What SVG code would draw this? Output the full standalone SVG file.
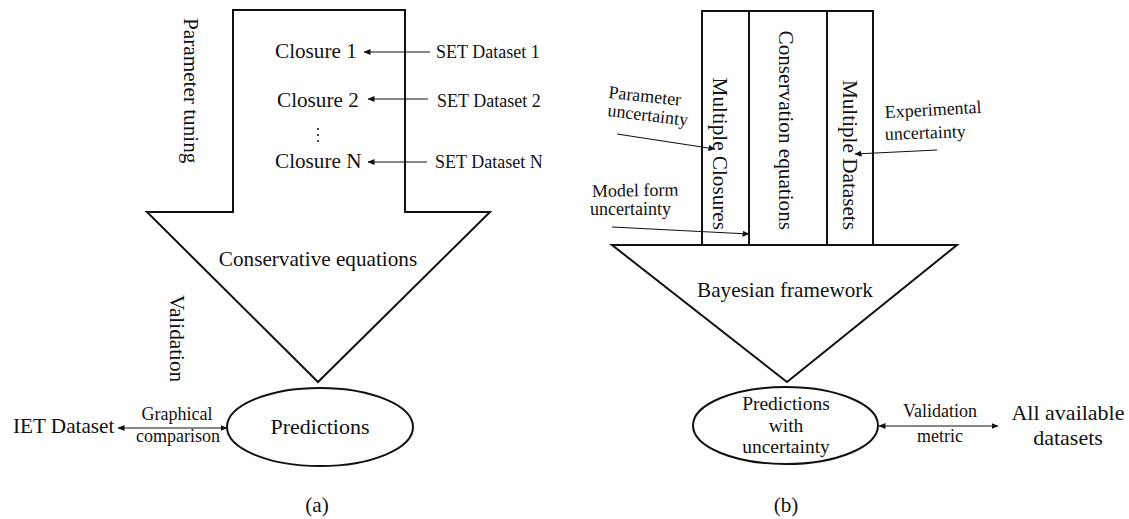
<svg xmlns="http://www.w3.org/2000/svg" width="1129" height="519" viewBox="0 0 1129 519">
<style>
text{font-family:"Liberation Serif","Times New Roman",serif;fill:#111}
.t20{font-size:21.2px}
.t21{font-size:22px}
.t17{font-size:18px}
.t19{font-size:19.5px}
.shape{fill:#fff;stroke:#111;stroke-width:2;stroke-linejoin:miter}
.conn{fill:none;stroke:#111;stroke-width:1.2}
.mid{text-anchor:middle}
.end{text-anchor:end}
</style>
<defs>
<marker id="ah" markerWidth="7" markerHeight="6" refX="6.5" refY="3" orient="auto-start-reverse" markerUnits="userSpaceOnUse">
<path d="M0,0 L7,3 L0,6 Z" fill="#111"/>
</marker>
</defs>
<rect width="1129" height="519" fill="#fff"/>

<!-- (a) -->
<g id="a-arrow">
<path class="shape" d="M233,10 H405 V212 H490 L318,382 L147,212 H233 Z"/>
<text class="t20" x="275" y="58">Closure 1</text>
<text class="t20" x="277" y="107">Closure 2</text>
<circle cx="318" cy="129" r="1" fill="#111"/>
<circle cx="318" cy="135" r="1" fill="#111"/>
<circle cx="318" cy="141" r="1" fill="#111"/>
<text class="t20" x="275" y="168">Closure N</text>
<text class="t20 mid" x="318" y="266">Conservative equations</text>
</g>
<g id="a-set1"><text class="t17" x="436" y="58">SET Dataset 1</text></g>
<g id="a-set2"><text class="t17" x="437" y="107">SET Dataset 2</text></g>
<g id="a-setN"><text class="t17" x="435" y="168">SET Dataset N</text></g>
<g id="a-param-label"><text class="t20" transform="translate(184,18) rotate(90)">Parameter tuning</text></g>
<g id="a-valid-label"><text class="t20" transform="translate(170,295) rotate(90)">Validation</text></g>
<g id="a-pred">
<ellipse class="shape" cx="320" cy="427" rx="93" ry="39"/>
<text class="t21 mid" x="320" y="434">Predictions</text>
</g>
<g id="a-iet"><text class="t20" x="13" y="433">IET Dataset</text></g>
<g id="a-caption"><text class="t20 mid" x="317" y="512">(a)</text></g>

<!-- (b) -->
<g id="b-arrow">
<path class="shape" d="M612,245 H957 L787,382 Z"/>
<rect class="shape" x="702" y="11" width="171" height="234"/>
<line class="shape" x1="749" y1="11" x2="749" y2="245"/>
<line class="shape" x1="827" y1="11" x2="827" y2="245"/>
<text class="t20" transform="translate(713,230) rotate(90)" text-anchor="end">Multiple Closures</text>
<text class="t20" transform="translate(779,230) rotate(90)" text-anchor="end">Conservation equations</text>
<text class="t20" transform="translate(843,230) rotate(90)" text-anchor="end">Multiple Datasets</text>
<text class="t20 mid" x="785" y="297">Bayesian framework</text>
</g>
<g id="b-param-unc">
<text class="t17" transform="translate(608,98) rotate(6)">Parameter</text>
<text class="t17" transform="translate(607,116) rotate(7)">uncertainty</text>
</g>
<g id="b-model-unc">
<text class="t17" transform="translate(592,197) rotate(-1)">Model form</text>
<text class="t17" x="590" y="215">uncertainty</text>
</g>
<g id="b-exp-unc">
<text class="t17" transform="translate(885,118) rotate(-3)">Experimental</text>
<text class="t17" transform="translate(885,140) rotate(-2)">uncertainty</text>
</g>
<g id="b-pred">
<ellipse class="shape" cx="785.5" cy="425.5" rx="92.5" ry="38.5"/>
<text class="t19 mid" x="786" y="410">Predictions</text>
<text class="t19 mid" x="786" y="431.5">with</text>
<text class="t19 mid" x="786" y="453">uncertainty</text>
</g>
<g id="b-all">
<text class="t21 mid" x="1068" y="420">All available</text>
<text class="t21 mid" x="1068" y="445">datasets</text>
</g>
<g id="b-caption"><text class="t20 mid" x="786" y="512">(b)</text></g>

<g id="connectors">
<line class="conn" x1="430" y1="52" x2="364" y2="52" marker-end="url(#ah)"/>
<line class="conn" x1="428" y1="99" x2="368" y2="99" marker-end="url(#ah)"/>
<line class="conn" x1="427" y1="162" x2="368" y2="162" marker-end="url(#ah)"/>
<line class="conn" x1="118" y1="428" x2="227" y2="428" stroke-width="1.8" marker-start="url(#ah)" marker-end="url(#ah)"/>
<text class="t17 mid" x="177" y="420">Graphical</text>
<text class="t17 mid" x="178" y="442">comparison</text>
<line class="conn" x1="617" y1="134" x2="715" y2="149" marker-end="url(#ah)"/>
<line class="conn" x1="612" y1="227" x2="749" y2="234" marker-end="url(#ah)"/>
<line class="conn" x1="937" y1="150" x2="855" y2="154" marker-end="url(#ah)"/>
<line class="conn" x1="879" y1="426" x2="998" y2="426" stroke-width="1.8" marker-start="url(#ah)" marker-end="url(#ah)"/>
<text class="t17 mid" x="940" y="417">Validation</text>
<text class="t17 mid" x="940" y="442">metric</text>
</g>
</svg>
